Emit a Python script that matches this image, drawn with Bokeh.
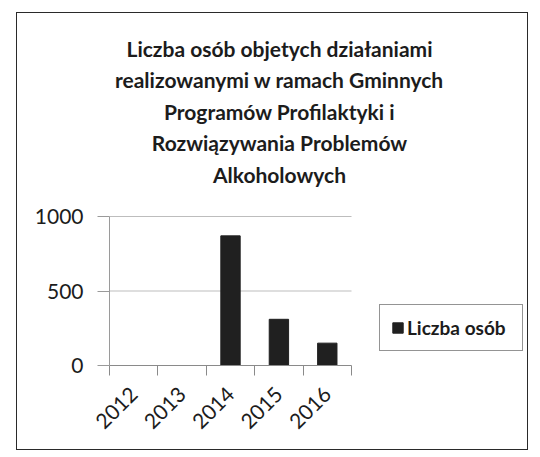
import math
from bokeh.plotting import figure
from bokeh.models import (Range1d, FixedTicker, Legend, LegendItem, Label, ColumnDataSource)
from bokeh.embed import file_html
from bokeh.resources import INLINE

years = ["2012", "2013", "2014", "2015", "2016"]
values = [0, 0, 870, 310, 150]
series_name = "Liczba osób"
title_lines = [
    "Liczba osób objetych działaniami",
    "realizowanymi w ramach Gminnych",
    "Programów Profilaktyki i",
    "Rozwiązywania Problemów",
    "Alkoholowych",
]
y_ticks = [0, 500, 1000]
grid_values = [500, 1000]

FONT = "Lato"
INK = "#1c1c1c"

# layout (page pixels)
BOX_L, BOX_T, BOX_R, BOX_B = 16, 12, 528, 450
F_LEFT, F_BOTTOM = 108, 364
Y_TOP_PX = 215        # pixel row of the top value (1000)
PLOT_RIGHT = 350      # where the category area ends
W, H = BOX_R - BOX_L, BOX_B - BOX_T

n = len(years)
y_max = max(y_ticks)
x_end = n * (BOX_R - F_LEFT) / (PLOT_RIGHT - F_LEFT)
y_end = y_max * (F_BOTTOM - BOX_T) / (F_BOTTOM - Y_TOP_PX)

x_centers = [i + 0.5 for i in range(n)]
src = ColumnDataSource(dict(x=x_centers, top=values, year=years))

p = figure(width=W, height=H, output_backend="svg", toolbar_location=None,
           x_range=Range1d(0, x_end), y_range=Range1d(0, y_end),
           min_border_left=F_LEFT - BOX_L, min_border_right=0,
           min_border_top=0, min_border_bottom=BOX_B - F_BOTTOM,
           margin=(BOX_T, 0, 0, BOX_L))
p.styles = {"border": "1.5px solid #2a2a2a"}
p.outline_line_color = None
p.background_fill_color = "white"
p.border_fill_color = "white"
p.xgrid.grid_line_color = None
p.ygrid.grid_line_color = None

# horizontal gridlines over the category area only
p.segment(x0=[0] * len(grid_values), x1=[n] * len(grid_values),
          y0=grid_values, y1=grid_values, line_color="#bdbdbd", line_width=1)

r = p.vbar(x="x", top="top", width=0.4, source=src, fill_color="#202020",
           line_color="#202020")

# x axis
xa = p.xaxis[0]
xa.bounds = (0, n)
xa.ticker = FixedTicker(ticks=x_centers, minor_ticks=list(range(n + 1)))
xa.major_label_overrides = {c: y for c, y in zip(x_centers, years)}
xa.major_tick_out = 0
xa.major_tick_in = 0
xa.minor_tick_out = 10
xa.minor_tick_in = 0
xa.minor_tick_line_color = "#8a8a8a"
xa.axis_line_color = "#8a8a8a"
xa.major_label_orientation = math.pi / 4
xa.major_label_text_font = FONT
xa.major_label_text_font_size = "21px"
xa.major_label_text_color = INK
xa.major_label_standoff = 15

# y axis
ya = p.yaxis[0]
ya.bounds = (0, y_max)
ya.ticker = FixedTicker(ticks=y_ticks)
ya.minor_tick_line_color = None
ya.major_tick_out = 12
ya.major_tick_in = 0
ya.major_tick_line_color = "#9a9a9a"
ya.axis_line_color = "#9a9a9a"
ya.major_label_text_font = FONT
ya.major_label_text_font_size = "21px"
ya.major_label_text_color = INK
ya.major_label_standoff = 14

legend = Legend(items=[LegendItem(label=series_name, renderers=[r])],
                location=(378 - F_LEFT, F_BOTTOM - 350))
legend.label_text_font = FONT
legend.label_text_font_style = "bold"
legend.label_text_font_size = "19px"
legend.label_text_color = INK
legend.label_width = 104
legend.border_line_color = "#2a2a2a"
legend.border_line_width = 1.5
legend.glyph_width = 13
legend.glyph_height = 13
legend.label_standoff = 3
legend.padding = 11
legend.margin = 0
legend.background_fill_color = "white"
p.add_layout(legend, "center")

title = Label(x=278 - F_LEFT, y=F_BOTTOM - 34, x_units="screen", y_units="screen",
              text="\n".join(title_lines), text_align="center",
              text_baseline="top", text_font=FONT, text_font_style="bold",
              text_font_size="21px", text_color=INK, text_line_height=1.26)
p.add_layout(title)

open("out.html", "w").write(file_html(p, INLINE))
